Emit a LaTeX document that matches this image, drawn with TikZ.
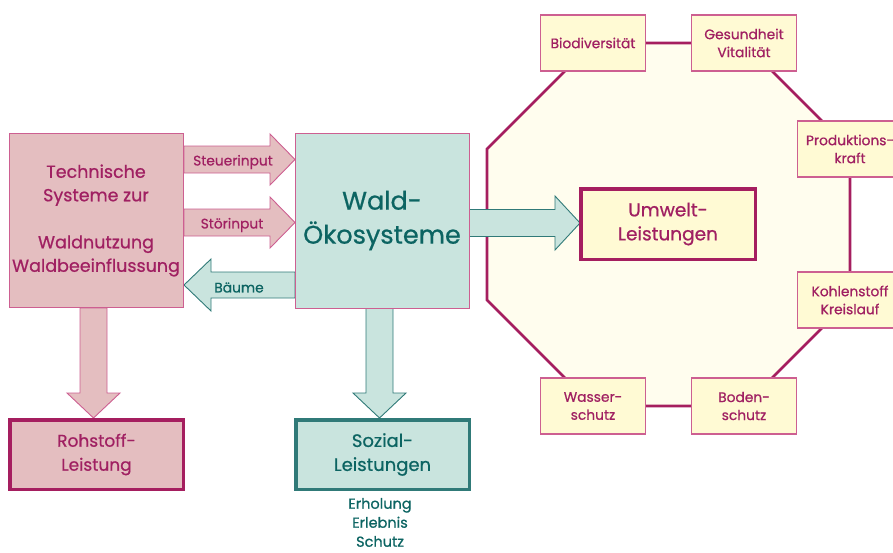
\documentclass[tikz,border=0pt]{standalone}
\usepackage{fontspec}
\setmainfont{Poppins}[FakeBold=0.7]
\definecolor{magtext}{RGB}{160,32,98}
\definecolor{magline}{RGB}{165,30,95}
\definecolor{pinkline}{RGB}{205,95,145}
\definecolor{pinkfill}{RGB}{228,190,192}
\definecolor{tealfill}{RGB}{201,228,222}
\definecolor{tealtext}{RGB}{12,100,98}
\definecolor{tealline}{RGB}{48,122,120}
\definecolor{yelfill}{RGB}{255,250,212}
\definecolor{octfill}{RGB}{255,253,238}
\begin{document}
\begin{tikzpicture}[x=1pt,y=-1pt,
  every node/.style={inner sep=0pt, outer sep=0pt, align=center},
  pinkbox/.style={draw=pinkline, line width=1pt, fill=pinkfill, text=magtext},
  tealbox/.style={draw=pinkline, line width=1pt, fill=tealfill, text=tealtext},
  resultpink/.style={draw=magline, line width=3.5pt, fill=pinkfill, text=magtext,
    minimum width=173.5, minimum height=69.5},
  resultteal/.style={draw=tealline, line width=3.5pt, fill=tealfill, text=tealtext,
    minimum width=173.5, minimum height=69.5},
  aspect/.style={draw=pinkline, line width=1.1pt, fill=yelfill, text=magtext,
    minimum width=105, minimum height=56, font=\fontsize{13.8}{18}\selectfont},
  pinkarrow/.style={draw=pinkline, line width=0.9pt, fill=pinkfill, line join=miter},
  tealarrow/.style={draw=tealline, line width=0.9pt, fill=tealfill, line join=miter},
  arrowlabel/.style={font=\fontsize{13.8}{16}\selectfont},
]
\useasboundingbox (0,0) rectangle (893,552);
\clip (0,0) rectangle (893,552);

% ring of environmental services
\draw[draw=magline, line width=2.6pt, fill=octfill]
  (593,43) -- (744,43) -- (850,149) -- (850,300) -- (744,406) -- (593,406)
  -- (487,300) -- (487,149) -- cycle;

% block arrows
\draw[pinkarrow] (184,146) -- (270,146) -- (270,134) -- (295,159.5) -- (270,185) -- (270,173) -- (184,173) -- cycle;
\draw[pinkarrow] (184,209) -- (270,209) -- (270,197) -- (295,222.5) -- (270,248) -- (270,236) -- (184,236) -- cycle;
\draw[tealarrow] (295,272) -- (211,272) -- (211,259) -- (184,285) -- (211,311) -- (211,298) -- (295,298) -- cycle;
\draw[tealarrow] (469,209.5) -- (555,209.5) -- (555,196) -- (580,223) -- (555,250) -- (555,236.5) -- (469,236.5) -- cycle;
\draw[pinkarrow] (80,308) -- (80,393) -- (67,393) -- (93.5,418) -- (120,393) -- (107,393) -- (107,308) -- cycle;
\draw[tealarrow] (366,308) -- (366,393) -- (353,393) -- (379.5,418) -- (406,393) -- (393,393) -- (393,308) -- cycle;

\node[arrowlabel, text=magtext] (lsteuer) at (233,162) {Steuerinput};
\node[arrowlabel, text=magtext] (lstoer) at (232,225) {Störinput};
\node[arrowlabel, text=tealtext] (lbaeume) at (239,287.5) {Bäume};

% main systems
\node[pinkbox, minimum width=174, minimum height=174,
  font=\fontsize{17.5}{23.5}\selectfont] (tech) at (96,220.5)
  {Technische\\Systeme zur\\[23.5pt]Waldnutzung\\Waldbeeinflussung};
\node[tealbox, minimum width=174, minimum height=175,
  font=\fontsize{25.5}{34}\selectfont] (wald) at (382,220.5) {Wald-\\Ökosysteme};

% services
\node[draw=magline, line width=3.5pt, fill=yelfill, text=magtext,
  minimum width=174.5, minimum height=70.5,
  font=\fontsize{18.5}{24}\selectfont] (umwelt) at (668,224) {Umwelt-\\Leistungen};
\node[resultpink, font=\fontsize{17}{24}\selectfont] (rohstoff) at (96.5,454.5) {Rohstoff-\\Leistung};
\node[resultteal, font=\fontsize{18}{24}\selectfont] (sozial) at (382.5,454.5) {Sozial-\\Leistungen};
\node[text=tealtext, font=\fontsize{14.5}{19}\selectfont, anchor=north] (sozdetail) at (380,498)
  {Erholung\\Erlebnis\\Schutz};

% aspects on the ring
\node[aspect] (bio) at (593,43) {Biodiversität};
\node[aspect] (ges) at (744,43) {Gesundheit\\Vitalität};
\node[aspect] (prod) at (850,149) {Produktions-\\kraft};
\node[aspect] (kohl) at (850,300) {Kohlenstoff\\Kreislauf};
\node[aspect] (bod) at (744,406) {Boden-\\schutz};
\node[aspect] (was) at (593,406) {Wasser-\\schutz};
\end{tikzpicture}
\end{document}
